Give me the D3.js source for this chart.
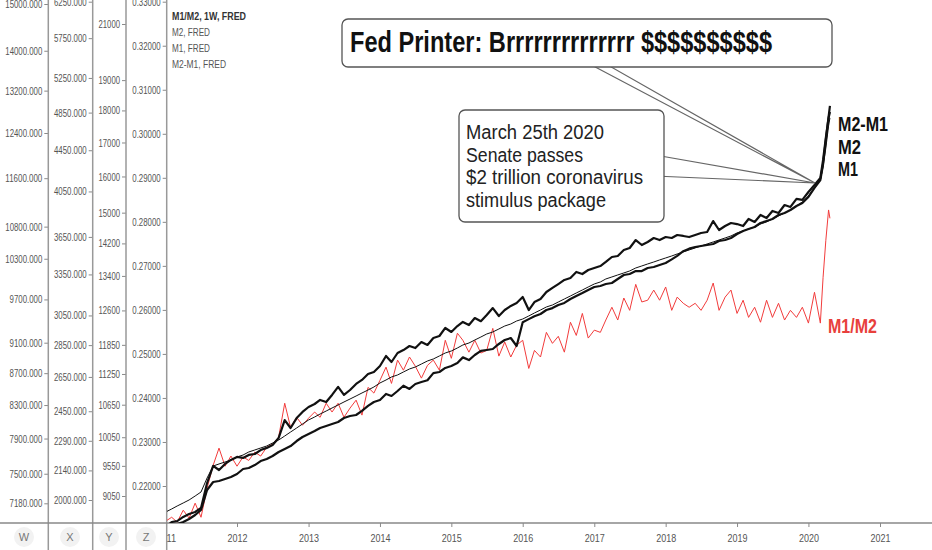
<!doctype html>
<html>
<head>
<meta charset="utf-8">
<title>M1 / M2 / M2-M1</title>
<script src="https://cdnjs.cloudflare.com/ajax/libs/d3/7.8.5/d3.min.js"></script>
<style>
  body { margin: 0; background: #fff; }
  svg { display: block; font-family: "Liberation Sans", Arial, sans-serif; }
</style>
</head>
<body>
<svg id="chart" width="932" height="550"></svg>
<script>
// weekly FRED series, read off the picture roughly once a month (weekly near the 2020 jump)
var dates = [
  "2011-01-01","2011-02-01","2011-03-01","2011-04-01","2011-05-01","2011-06-01","2011-07-01","2011-08-01","2011-09-01","2011-10-01","2011-11-01","2011-12-01",
  "2012-01-01","2012-02-01","2012-03-01","2012-04-01","2012-05-01","2012-06-01","2012-07-01","2012-08-01","2012-09-01","2012-10-01","2012-11-01","2012-12-01",
  "2013-01-01","2013-02-01","2013-03-01","2013-04-01","2013-05-01","2013-06-01","2013-07-01","2013-08-01","2013-09-01","2013-10-01","2013-11-01","2013-12-01",
  "2014-01-01","2014-02-01","2014-03-01","2014-04-01","2014-05-01","2014-06-01","2014-07-01","2014-08-01","2014-09-01","2014-10-01","2014-11-01","2014-12-01",
  "2015-01-01","2015-02-01","2015-03-01","2015-04-01","2015-05-01","2015-06-01","2015-07-01","2015-08-01","2015-09-01","2015-10-01","2015-11-01","2015-12-01",
  "2016-01-01","2016-02-01","2016-03-01","2016-04-01","2016-05-01","2016-06-01","2016-07-01","2016-08-01","2016-09-01","2016-10-01","2016-11-01","2016-12-01",
  "2017-01-01","2017-02-01","2017-03-01","2017-04-01","2017-05-01","2017-06-01","2017-07-01","2017-08-01","2017-09-01","2017-10-01","2017-11-01","2017-12-01",
  "2018-01-01","2018-02-01","2018-03-01","2018-04-01","2018-05-01","2018-06-01","2018-07-01","2018-08-01","2018-09-01","2018-10-01","2018-11-01","2018-12-01",
  "2019-01-01","2019-02-01","2019-03-01","2019-04-01","2019-05-01","2019-06-01","2019-07-01","2019-08-01","2019-09-01","2019-10-01","2019-11-01","2019-12-01",
  "2020-01-01","2020-02-01","2020-03-02","2020-03-16","2020-03-30","2020-04-13","2020-04-20"
];

var m1m2 = [
  0.2120,0.2129,0.2118,0.2145,0.2127,0.2161,0.2129,0.2195,0.2247,0.2286,0.2245,0.2268,
  0.2245,0.2266,0.2258,0.2277,0.2268,0.2288,0.2295,0.2311,0.2388,0.2333,0.2356,0.2338,
  0.2354,0.2368,0.2356,0.2388,0.2368,0.2388,0.2356,0.2377,0.2395,0.2361,0.2424,0.2411,
  0.2440,0.2470,0.2433,0.2486,0.2463,0.2493,0.2472,0.2445,0.2474,0.2486,0.2463,0.2531,
  0.2490,0.2547,0.2531,0.2504,0.2531,0.2502,0.2508,0.2558,0.2495,0.2527,0.2493,0.2520,
  0.2531,0.2467,0.2508,0.2493,0.2549,0.2524,0.2540,0.2504,0.2572,0.2542,0.2592,0.2536,
  0.2554,0.2549,0.2577,0.2606,0.2577,0.2627,0.2599,0.2658,0.2618,0.2622,0.2645,0.2622,
  0.2652,0.2599,0.2629,0.2615,0.2606,0.2615,0.2599,0.2622,0.2661,0.2599,0.2629,0.2645,
  0.2592,0.2622,0.2583,0.2606,0.2572,0.2622,0.2583,0.2615,0.2577,0.2599,0.2583,0.2606,
  0.2570,0.2640,0.2570,0.2674,0.2758,0.2827,0.2808
];

var m2 = [
  8795,8843,8890,8938,8986,9050,9115,9345,9547,9582,9616,9650,
  9702,9736,9789,9824,9859,9894,9947,10000,10072,10144,10217,10290,
  10364,10419,10475,10531,10588,10645,10702,10759,10817,10875,10933,10992,
  11071,11130,11190,11230,11290,11351,11391,11452,11514,11555,11617,11679,
  11721,11784,11847,11889,11953,12017,12082,12125,12190,12255,12299,12365,
  12409,12476,12543,12610,12678,12723,12791,12860,12929,12998,13068,13138,
  13209,13256,13327,13375,13423,13471,13519,13591,13640,13689,13737,13787,
  13836,13885,13935,13985,14035,14085,14135,14186,14236,14287,14338,14390,
  14467,14519,14570,14623,14701,14754,14833,14912,14992,15073,15181,15289,
  15454,15676,15901,16274,16835,17509,17760
];

var m1 = [
  1880,1902,1906,1924,1937,1946,1964,2079,2162,2142,2172,2192,
  2207,2202,2217,2222,2242,2253,2268,2305,2401,2358,2412,2446,
  2474,2491,2514,2502,2543,2590,2543,2572,2608,2632,2668,2680,
  2717,2780,2742,2799,2818,2844,2831,2870,2851,2897,2910,2964,
  2937,2977,3005,2984,3032,3010,3053,3102,3046,3088,3117,3138,
  3182,3088,3145,3167,3218,3248,3277,3308,3323,3369,3353,3384,
  3400,3415,3447,3486,3494,3542,3559,3624,3583,3608,3641,3624,
  3649,3641,3666,3658,3649,3666,3683,3691,3785,3708,3742,3768,
  3759,3742,3803,3777,3838,3811,3873,3855,3926,3909,3981,3972,
  4045,4110,4177,4352,4577,4791,4857
];

var m2m1 = [
  6923,6943,6964,6985,7016,7057,7109,7322,7409,7420,7442,7464,
  7497,7553,7564,7597,7642,7665,7699,7745,7779,7813,7871,7918,
  7953,7988,8024,8048,8071,8095,8143,8167,8179,8228,8289,8338,
  8362,8437,8412,8474,8540,8500,8562,8587,8610,8700,8715,8767,
  8793,8831,8905,8870,8936,8990,9003,9016,9083,9136,9163,9056,
  9380,9422,9463,9494,9550,9577,9620,9650,9706,9750,9792,9836,
  9879,9894,9923,9938,9997,10056,10071,10115,10115,10161,10176,10206,
  10236,10290,10345,10415,10455,10480,10496,10511,10527,10573,10589,10620,
  10683,10731,10762,10794,10858,10890,10922,10987,11019,11068,11134,11183,
  11283,11434,11569,11846,12273,12696,12908
];

var years = ["2011","2012","2013","2014","2015","2016","2017","2018","2019","2020","2021"];
var wTicks = [15000,14000,13200,12400,11600,10800,10300,9700,9100,8700,8300,7900,7500,7180];
var xTicks = [6250,5750,5250,4850,4450,4050,3650,3350,3050,2850,2650,2450,2290,2140,2000];
var yTicks = [21000,19000,18000,17000,16000,15000,14200,13400,12600,11850,11250,10650,10050,9550,9050];
var zTicks = [0.33,0.32,0.31,0.30,0.29,0.28,0.27,0.26,0.25,0.24,0.23,0.22];
var scaleNames = ["W","X","Y","Z"];
var legendRows = ["M1/M2, 1W, FRED","M2, FRED","M1, FRED","M2-M1, FRED"];
var endLabels = ["M2-M1","M2","M1"];
var note1 = "Fed Printer: Brrrrrrrrrrrrrr $$$$$$$$$$";
var note2 = ["March 25th 2020","Senate passes","$2 trillion coronavirus","stimulus package"];

var parse = d3.timeParse("%Y-%m-%d");
var svg = d3.select("#chart");
var W = 932, H = 550, bottom = 523, left = 167;

var x = d3.scaleTime()
  .domain([parse("2012-01-01"), parse("2021-01-01")])
  .range([237, 880]);
var yW = d3.scaleLog().domain([7180, 15000]).range([503.3, 4]);    // M2-M1
var yX = d3.scaleLog().domain([2000, 6250]).range([500, 1.7]);     // M1
var yY = d3.scaleLog().domain([9050, 21000]).range([496, 24]);     // M2
var yZ = d3.scaleLinear().domain([0.22, 0.33]).range([486, 1.7]);  // M1/M2

var defs = svg.append("defs");
defs.append("clipPath").attr("id", "plot")
  .append("rect").attr("x", left).attr("y", 0).attr("width", W - left).attr("height", bottom);
defs.append("clipPath").attr("id", "xclip")
  .append("rect").attr("x", left).attr("y", bottom).attr("width", W - left).attr("height", H - bottom);

// narrow-looking labels: fix width per character
function labelWidth(s) {
  var w = 0;
  for (var i = 0; i < s.length; i++) w += (s[i] === "." ? 2.6 : 4.3);
  return w;
}

// price scales on the left
var scales = [
  { s: yW, ticks: wTicks, fmt: d3.format(".3f"), at: 48.3 },
  { s: yX, ticks: xTicks, fmt: d3.format(".3f"), at: 92.7 },
  { s: yY, ticks: yTicks, fmt: d3.format("d"), at: 126 },
  { s: yZ, ticks: zTicks, fmt: d3.format(".5f"), at: 166.7 }
];
var bottomCenters = [24, 70, 109, 146];

scales.forEach(function(a, i) {
  var g = svg.append("g").attr("transform", "translate(" + a.at + ",0)")
    .call(d3.axisLeft(a.s).tickValues(a.ticks).tickFormat(a.fmt).tickSize(4).tickPadding(2));
  g.select(".domain").remove();
  g.selectAll(".tick line").attr("stroke", "#8a8a8a");
  g.selectAll(".tick text")
    .attr("fill", "#555").attr("font-size", 11)
    .attr("textLength", function(d) { return labelWidth(a.fmt(d)); })
    .attr("lengthAdjust", "spacingAndGlyphs");
  svg.append("line")
    .attr("x1", a.at).attr("x2", a.at).attr("y1", 0).attr("y2", H)
    .attr("stroke", "#999").attr("stroke-width", 1.5);
  svg.append("circle").attr("cx", bottomCenters[i]).attr("cy", 537).attr("r", 10).attr("fill", "#f2f2f2");
  svg.append("text").attr("x", bottomCenters[i]).attr("y", 541)
    .attr("text-anchor", "middle").attr("font-size", 11).attr("fill", "#777")
    .text(scaleNames[i]);
});

// time axis, clipped so that 2011 shows only as "11"
var gxWrap = svg.append("g").attr("clip-path", "url(#xclip)");
var gx = gxWrap.append("g").attr("transform", "translate(0," + bottom + ")")
  .call(d3.axisBottom(x).tickValues(years.map(function(d) { return parse(d + "-01-01"); }))
    .tickFormat(d3.timeFormat("%Y")).tickSize(4).tickPadding(7));
gx.select(".domain").remove();
gx.selectAll(".tick line").attr("stroke", "#8a8a8a");
gx.selectAll(".tick text").attr("fill", "#555").attr("font-size", 11)
  .attr("textLength", 20).attr("lengthAdjust", "spacingAndGlyphs");

svg.append("line").attr("x1", 0).attr("x2", W).attr("y1", bottom).attr("y2", bottom)
  .attr("stroke", "#888").attr("stroke-width", 1.5);

// series
var plot = svg.append("g").attr("clip-path", "url(#plot)");
function series(vals, scale, color, width) {
  var line = d3.line()
    .x(function(d, i) { return x(parse(dates[i])); })
    .y(function(d) { return scale(d); });
  plot.append("path").datum(vals)
    .attr("fill", "none").attr("stroke", color).attr("stroke-width", width)
    .attr("stroke-linejoin", "round").attr("d", line);
}
series(m1m2, yZ, "#f23c3c", 1);
series(m2m1, yW, "#111", 2.2);
series(m1, yX, "#111", 2.2);
series(m2, yY, "#111", 1);

// legend
legendRows.forEach(function(t, i) {
  svg.append("text").attr("x", 172).attr("y", 19.5 + i * 16)
    .attr("font-size", 11).attr("fill", i === 0 ? "#333" : "#555")
    .attr("font-weight", i === 0 ? "bold" : "normal")
    .attr("textLength", [74, 38, 38, 54][i]).attr("lengthAdjust", "spacingAndGlyphs")
    .text(t);
});

// end labels
endLabels.forEach(function(t, i) {
  svg.append("text").attr("x", 838).attr("y", [131, 154, 176][i])
    .attr("font-size", 19.5).attr("font-weight", "bold").attr("fill", "#111")
    .attr("textLength", [50, 23, 20][i]).attr("lengthAdjust", "spacingAndGlyphs")
    .text(t);
});
svg.append("text").attr("x", 828).attr("y", 333)
  .attr("font-size", 20).attr("font-weight", "bold").attr("fill", "#e8403c")
  .attr("textLength", 49).attr("lengthAdjust", "spacingAndGlyphs")
  .text("M1/M2");

// callouts
var tip = [815, 183];
svg.append("path")
  .attr("d", "M582,60L" + tip + "L599,60Z")
  .attr("fill", "#fff").attr("stroke", "#666").attr("stroke-width", 1.2);
svg.append("path")
  .attr("d", "M655,155L" + tip + "L655,176Z")
  .attr("fill", "#fff").attr("stroke", "#666").attr("stroke-width", 1.2);

svg.append("rect").attr("x", 342).attr("y", 19).attr("width", 490).attr("height", 48)
  .attr("rx", 6).attr("fill", "#fff").attr("stroke", "#555").attr("stroke-width", 1.3);
svg.append("text").attr("x", 350).attr("y", 52)
  .attr("font-size", 30).attr("font-weight", "bold").attr("fill", "#111")
  .attr("textLength", 422).attr("lengthAdjust", "spacingAndGlyphs")
  .text(note1);

svg.append("rect").attr("x", 459).attr("y", 110).attr("width", 205).attr("height", 112)
  .attr("rx", 6).attr("fill", "#fff").attr("stroke", "#555").attr("stroke-width", 1.3);
note2.forEach(function(t, i) {
  svg.append("text").attr("x", 466).attr("y", 139 + i * 22.5)
    .attr("font-size", 20).attr("fill", "#222")
    .attr("textLength", [138, 117, 177, 140][i]).attr("lengthAdjust", "spacingAndGlyphs")
    .text(t);
});
</script>
</body>
</html>
